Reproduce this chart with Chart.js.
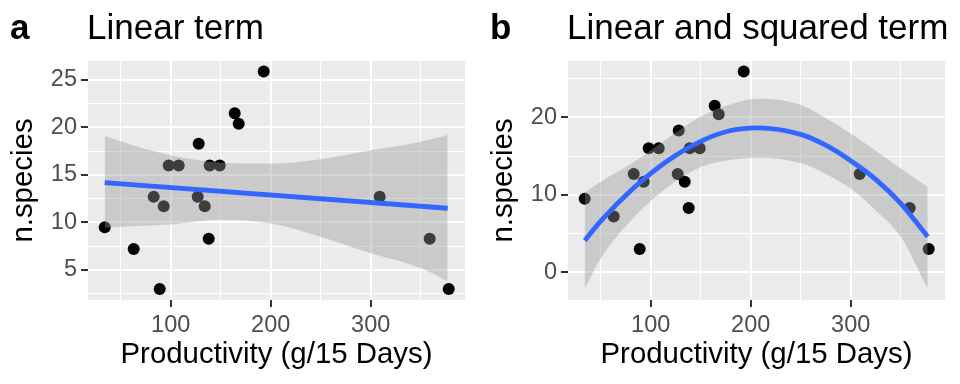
<!DOCTYPE html>
<html>
<head>
<meta charset="utf-8">
<script src="https://cdn.jsdelivr.net/npm/chart.js@4/dist/chart.umd.min.js"></script>
<style>
  html, body { margin: 0; padding: 0; background: #fff; }
  #wrap { display: flex; width: 960px; height: 384px; }
  canvas { display: block; }
</style>
</head>
<body>
<div id="wrap">
  <canvas id="panelA" width="480" height="384"></canvas>
  <canvas id="panelB" width="480" height="384"></canvas>
</div>
<script>
// observed points, same in both panels
const productivity = [34, 63, 89, 83, 93, 98, 108, 128, 127, 134, 138, 139, 149, 164, 168, 193, 309, 359, 378];
const nSpecies = [9.5, 7.2, 3, 12.7, 11.7, 16, 16, 18.3, 12.7, 11.7, 8.3, 16, 16, 21.5, 20.4, 25.9, 12.7, 8.3, 3];

// panel a: linear fit and its confidence band
const fitAx = [34, 377];
const fitAy = [14.2, 11.5];
const bandAx = [34, 60, 99, 150, 200, 250, 300, 350, 377];
const bandAhi = [19.1, 18.2, 17.1, 16.3, 16.2, 16.65, 17.6, 18.5, 19.2];
const bandAlo = [9.45, 9.6, 9.8, 10.3, 9.9, 8.5, 6.75, 5.2, 3.8];

// panel b: quadratic fit and band
const fitBx = [34, 50, 84, 117, 150, 180, 207, 250, 275, 300, 325, 350, 377];
const fitBy = [4.1, 6.6, 11.0, 14.4, 16.9, 18.3, 18.65, 17.8, 16.4, 14.4, 12.0, 8.9, 4.6];
const bandBhi = [10.3, 11.7, 14.3, 17.3, 20.1, 21.7, 22.4, 21.6, 19.9, 17.9, 15.7, 13.4, 11.0];
const bandBlo = [-2.1, 1.8, 7.2, 11.0, 13.6, 14.5, 14.8, 14.1, 12.7, 10.8, 8.0, 4.6, -2.1];

// axis ticks
const xMajor = [100, 200, 300];
const xMinor = [50, 150, 250, 350];
const yMajorA = [5, 10, 15, 20, 25];
const yMinorA = [2.5, 7.5, 12.5, 17.5, 22.5];
const yMajorB = [0, 10, 20];
const yMinorB = [5, 15, 25];

const FONT = '"Liberation Sans", Arial, sans-serif';

const xy = (xs, ys) => xs.map((x, i) => ({ x: x, y: ys[i] }));

const panelBg = {
  id: 'panelBg',
  beforeDraw(chart) {
    const a = chart.chartArea, ctx = chart.ctx;
    ctx.save();
    ctx.fillStyle = '#EBEBEB';
    ctx.fillRect(a.left, a.top, a.right - a.left, a.bottom - a.top);
    ctx.restore();
  },
  afterDraw(chart, args, opts) {
    const ctx = chart.ctx;
    ctx.save();
    ctx.fillStyle = '#000';
    ctx.textBaseline = 'alphabetic';
    ctx.font = 'bold 35px ' + FONT;
    ctx.fillText(opts.tag, 10, 39);
    ctx.font = '35px ' + FONT;
    ctx.fillText(opts.title, 87, 39);
    ctx.restore();
  }
};

function axis(min, max, majors, minors, extra) {
  const isMajor = c => c.tick && majors.includes(c.tick.value);
  return Object.assign({
    type: 'linear',
    min: min,
    max: max,
    afterBuildTicks: s => { s.ticks = majors.concat(minors).sort((a, b) => a - b).map(v => ({ value: v })); },
    border: { display: false },
    grid: {
      color: '#FFFFFF',
      lineWidth: c => isMajor(c) ? 2 : 1,
      drawTicks: true,
      tickLength: 7,
      tickWidth: 2,
      tickColor: c => isMajor(c) ? '#333333' : 'rgba(0,0,0,0)'
    },
    ticks: {
      autoSkip: false,
      maxRotation: 0,
      color: '#4D4D4D',
      font: { family: FONT, size: 23.5 },
      padding: 4,
      callback: v => majors.includes(v) ? String(v) : ''
    }
  }, extra);
}

function makePanel(id, tag, title, fx, fy, bx, bhi, blo, yMin, yMax, yMaj, yMin2) {
  return new Chart(document.getElementById(id), {
    type: 'scatter',
    data: {
      datasets: [
        { data: xy(productivity, nSpecies), backgroundColor: '#000', pointRadius: 6, borderWidth: 0, order: 3 },
        { data: xy(bx, bhi), showLine: true, pointRadius: 0, borderColor: 'transparent',
          backgroundColor: 'rgba(153,153,153,0.4)', fill: '+1', cubicInterpolationMode: 'monotone', order: 2 },
        { data: xy(bx, blo), showLine: true, pointRadius: 0, borderColor: 'transparent',
          fill: false, cubicInterpolationMode: 'monotone', order: 2 },
        { data: xy(fx, fy), showLine: true, pointRadius: 0, borderColor: '#3366FF', borderWidth: 4.8,
          cubicInterpolationMode: 'monotone', order: 1 }
      ]
    },
    options: {
      responsive: false,
      animation: false,
      devicePixelRatio: 1,
      layout: { padding: { left: 0, right: 15, top: 61, bottom: 0 } },
      plugins: {
        legend: { display: false },
        tooltip: { enabled: false },
        panelBg: { tag: tag, title: title }
      },
      scales: {
        x: axis(17.3, 394.3, xMajor, xMinor, {
          afterFit: s => { s.height = 84; },
          title: { display: true, text: 'Productivity (g/15 Days)', color: '#000',
                   font: { family: FONT, size: 29.4 }, padding: { top: 0, bottom: 11 } }
        }),
        y: axis(yMin, yMax, yMaj, yMin2, {
          afterFit: s => { s.width = 88; },
          title: { display: true, text: 'n.species', color: '#000',
                   font: { family: FONT, size: 29.4 }, padding: { top: 6, bottom: 0 } }
        })
      }
    },
    plugins: [panelBg]
  });
}

makePanel('panelA', 'a', 'Linear term', fitAx, fitAy, bandAx, bandAhi, bandAlo, 1.84, 27.0, yMajorA, yMinorA);
makePanel('panelB', 'b', 'Linear and squared term', fitBx, fitBy, fitBx, bandBhi, bandBlo, -3.57, 27.27, yMajorB, yMinorB);
</script>
</body>
</html>
